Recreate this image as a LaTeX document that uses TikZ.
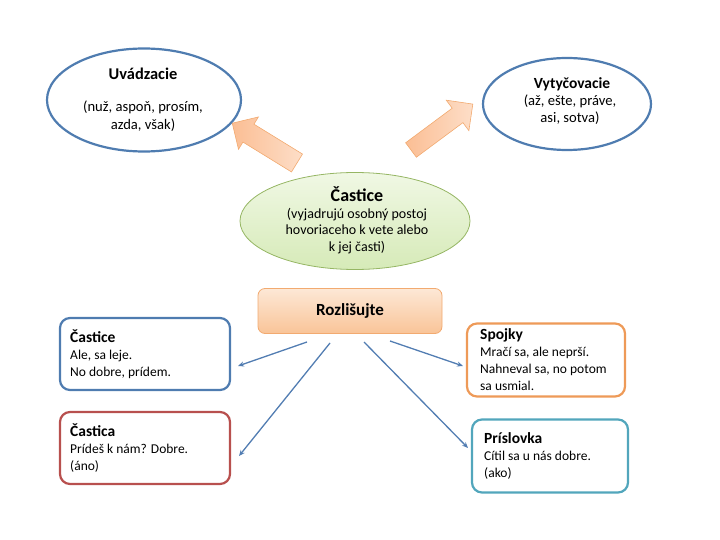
\documentclass[tikz,border=0pt]{standalone}
\usepackage{fontspec}
\setmainfont{Carlito}
\usetikzlibrary{shapes.geometric,arrows.meta}
\definecolor{ellblue}{RGB}{79,124,176}
\definecolor{connblue}{RGB}{82,125,178}
\definecolor{boxred}{RGB}{184,80,78}
\definecolor{boxorange}{RGB}{238,154,88}
\definecolor{boxteal}{RGB}{82,166,188}
\definecolor{grnfillA}{RGB}{240,248,228}
\definecolor{grnfillB}{RGB}{214,234,184}
\definecolor{grnline}{RGB}{150,182,100}
\definecolor{orfillA}{RGB}{253,232,214}
\definecolor{orfillB}{RGB}{249,196,152}
\definecolor{orline}{RGB}{242,170,112}
\definecolor{arrA}{RGB}{251,190,148}
\definecolor{arrB}{RGB}{253,222,200}
\begin{document}
\begin{tikzpicture}[x=1pt,y=-1pt,
  font=\fontsize{13.5}{17}\selectfont,
  ellb/.style={ellipse, draw=ellblue, line width=2.2pt, inner sep=0pt},
  ellg/.style={ellipse, draw=grnline, line width=0.8pt, top color=grnfillA, bottom color=grnfillB, inner sep=0pt},
  rozbox/.style={rectangle, rounded corners=7pt, draw=orline, line width=0.8pt, top color=orfillA, bottom color=orfillB, minimum width=184pt, minimum height=45pt, inner sep=0pt},
  exbox/.style={rectangle, rounded corners=10pt, line width=2.2pt, fill=white, minimum width=170pt, minimum height=72pt, inner sep=0pt},
  txt/.style={inner sep=0pt, align=center},
  ltxt/.style={inner sep=0pt, align=left, anchor=north west},
  conn/.style={draw=connblue, line width=1.3pt, -{Stealth[length=6pt,width=5pt]}},
  blockarrow/.style={draw=orline, line width=0.6pt, left color=arrA, right color=arrB}
]
\useasboundingbox (0,0) rectangle (720,540);

% ellipses
\node[ellb, minimum width=194pt, minimum height=103pt] (uv) at (144,100) {};
\node[ellb, minimum width=168pt, minimum height=92pt] (vy) at (567,104) {};
\node[ellg, minimum width=230pt, minimum height=97pt] (ca) at (355,221) {};

\node[txt, font=\fontsize{16.4}{19}\selectfont\bfseries] (uvt) at (143,74) {Uvádzacie};
\node[txt, font=\fontsize{14.6}{18}\selectfont] (uvb) at (143,116) {(nuž, aspoň, prosím,\\azda, však)};
\node[txt, font=\fontsize{15.5}{19}\selectfont\bfseries] (vyt) at (572,84) {Vytyčovacie};
\node[txt, font=\fontsize{14.6}{17}\selectfont] (vyb) at (570,110) {(až, ešte, práve,\\asi, sotva)};
\node[txt, font=\fontsize{18}{21}\selectfont\bfseries] (cat) at (357,194) {Častice};
\node[txt, font=\fontsize{14}{16.5}\selectfont] (cab) at (357,231) {(vyjadrujú osobný postoj\\hovoriaceho k vete alebo\\k jej časti)};

% block arrows
\begin{scope}[shift={(297,163)}, rotate=148.4]
\shade[blockarrow] (0,-10.5) -- (57,-10.5) -- (57,-19) -- (76,0) -- (57,19) -- (57,10.5) -- (0,10.5) -- cycle;
\end{scope}
\begin{scope}[shift={(411,150)}, rotate=36.6]
\shade[blockarrow] (0,-9) -- (58,-9) -- (58,-19) -- (77,0) -- (58,19) -- (58,9) -- (0,9) -- cycle;
\end{scope}

% Rozlisujte
\node[rozbox, font=\fontsize{17}{20}\selectfont\bfseries] (roz) at (350,311) {Rozlišujte};

% example boxes
\node[exbox, draw=ellblue] (b1) at (145,354) {};
\node[exbox, draw=boxred] (b2) at (145,448) {};
\node[exbox, draw=boxorange, minimum width=158pt, minimum height=73pt] (b3) at (546,360) {};
\node[exbox, draw=boxteal, minimum width=156pt, minimum height=73pt] (b4) at (550,456) {};

\newcommand{\ttl}[1]{{\fontsize{15.5}{17}\selectfont\bfseries #1}}
\node[ltxt] (t1) at (70,330) {\ttl{Častice}\\Ale, sa leje.\\No dobre, prídem.};
\node[ltxt] (t2) at (70,424) {\ttl{Častica}\\Prídeš k nám? Dobre.\\(áno)};
\node[ltxt] (t3) at (480,328) {\ttl{Spojky}\\Mračí sa, ale neprší.\\Nahneval sa, no potom\\sa usmial.};
\node[ltxt] (t4) at (484,432) {\ttl{Príslovka}\\Cítil sa u nás dobre.\\(ako)};

% connectors
\coordinate (s1) at (307,342);
\coordinate (e1) at (238,366);
\coordinate (s2) at (330,343);
\coordinate (e2) at (239,456);
\coordinate (s3) at (364,342);
\coordinate (e3) at (468,448);
\coordinate (s4) at (390,341);
\coordinate (e4) at (463,366);
\draw[conn] (s1) -- (e1);
\draw[conn] (s2) -- (e2);
\draw[conn] (s3) -- (e3);
\draw[conn] (s4) -- (e4);
\end{tikzpicture}
\end{document}
